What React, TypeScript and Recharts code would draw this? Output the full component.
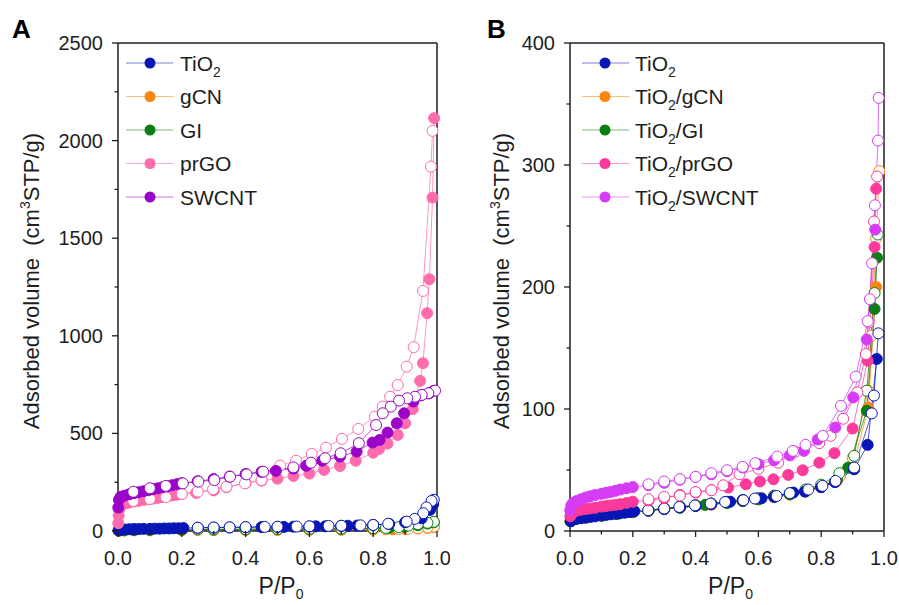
import { LineChart, Line, XAxis, YAxis, ReferenceLine, Legend, Label } from "recharts";

type Pt = [number, number];

// ---------- Panel A : bare materials (P/P0, cm3 STP/g) ----------
const tio2AAds: Pt[] = [
  [0.002, 4], [0.01, 7], [0.02, 8], [0.035, 9], [0.05, 10], [0.065, 10], [0.08, 11], [0.1, 11],
  [0.115, 12], [0.13, 12], [0.145, 13], [0.16, 13], [0.175, 14], [0.19, 14], [0.205, 15],
  [0.25, 16], [0.3, 17], [0.35, 18], [0.4, 19], [0.45, 20], [0.5, 21], [0.52, 21], [0.55, 22],
  [0.6, 23], [0.62, 24], [0.65, 24], [0.7, 26], [0.72, 27], [0.75, 28], [0.8, 31], [0.85, 36],
  [0.9, 45], [0.952, 65], [0.978, 108], [0.988, 138],
];
const tio2ADes: Pt[] = [
  [0.99, 160], [0.983, 154], [0.967, 121], [0.957, 91], [0.93, 62], [0.905, 48], [0.847, 37],
  [0.8, 31], [0.76, 29], [0.7, 27], [0.66, 26], [0.6, 24], [0.56, 23], [0.5, 22], [0.46, 21],
  [0.4, 20], [0.35, 19], [0.3, 18], [0.25, 17],
];
const gcnAAds: Pt[] = [
  [0.002, 1], [0.02, 2], [0.05, 3], [0.1, 3], [0.2, 4], [0.3, 5], [0.4, 5], [0.5, 6], [0.6, 6],
  [0.7, 7], [0.8, 8], [0.86, 9], [0.9, 11], [0.94, 13], [0.97, 16], [0.99, 20],
];
const gcnADes: Pt[] = [
  [0.99, 22], [0.97, 18], [0.94, 14], [0.91, 12], [0.88, 10], [0.84, 9], [0.8, 8], [0.7, 7],
  [0.6, 7], [0.5, 6], [0.4, 6], [0.3, 5], [0.25, 5],
];
const giAAds: Pt[] = [
  [0.002, 2], [0.02, 4], [0.05, 5], [0.1, 6], [0.2, 7], [0.3, 8], [0.4, 9], [0.5, 10], [0.6, 11],
  [0.7, 12], [0.8, 14], [0.85, 17], [0.9, 22], [0.94, 30], [0.97, 38], [0.99, 45],
];
const giADes: Pt[] = [
  [0.99, 47], [0.97, 42], [0.94, 35], [0.91, 27], [0.88, 20], [0.84, 16], [0.8, 14], [0.7, 12],
  [0.6, 11], [0.5, 10], [0.4, 9], [0.3, 8], [0.25, 8],
];
const prgoAAds: Pt[] = [
  [0.001, 40], [0.002, 80], [0.004, 110], [0.008, 128], [0.015, 137], [0.025, 142], [0.035, 146],
  [0.05, 151], [0.065, 155], [0.08, 159], [0.095, 163], [0.11, 166], [0.125, 170], [0.14, 174],
  [0.155, 178], [0.17, 182], [0.185, 186], [0.2, 190], [0.245, 195], [0.3, 208], [0.34, 224],
  [0.4, 245], [0.45, 258], [0.5, 268], [0.55, 282], [0.6, 294], [0.646, 313], [0.696, 333],
  [0.745, 360], [0.8, 401], [0.818, 420], [0.845, 448], [0.877, 492], [0.9, 552], [0.924, 624],
  [0.947, 769], [0.956, 860], [0.969, 1116], [0.976, 1290], [0.986, 1708], [0.991, 2115],
];
const prgoADes: Pt[] = [
  [0.986, 2050], [0.981, 1867], [0.956, 1230], [0.927, 942], [0.905, 842], [0.877, 748],
  [0.853, 688], [0.83, 637], [0.805, 586], [0.753, 523], [0.702, 472], [0.652, 427], [0.607, 395],
  [0.558, 360], [0.508, 335], [0.45, 261], [0.398, 244], [0.34, 227], [0.298, 214], [0.25, 202],
  [0.2, 190], [0.15, 173], [0.1, 164], [0.048, 154],
];
const swcntAAds: Pt[] = [
  [0.001, 120], [0.003, 160], [0.008, 175], [0.02, 181], [0.035, 188], [0.05, 194], [0.065, 199],
  [0.08, 204], [0.095, 209], [0.11, 214], [0.125, 219], [0.14, 224], [0.155, 229], [0.17, 235],
  [0.185, 240], [0.2, 245], [0.25, 255], [0.3, 266], [0.35, 279], [0.4, 292], [0.45, 303],
  [0.495, 308], [0.55, 320], [0.59, 334], [0.64, 360], [0.696, 381], [0.748, 407], [0.798, 453],
  [0.82, 466], [0.845, 504], [0.874, 552], [0.897, 603], [0.926, 663], [0.95, 695], [0.975, 705],
  [0.99, 718],
];
const swcntADes: Pt[] = [
  [0.994, 719], [0.973, 706], [0.952, 697], [0.931, 688], [0.907, 680], [0.881, 668], [0.855, 637],
  [0.83, 603], [0.809, 543], [0.755, 450], [0.698, 398], [0.649, 373], [0.605, 350], [0.55, 326],
  [0.455, 304], [0.403, 290], [0.351, 278], [0.302, 261], [0.252, 253], [0.203, 244], [0.15, 231],
  [0.1, 219], [0.048, 201],
];

// ---------- Panel B : TiO2 composites ----------
const tio2BAds: Pt[] = [
  [0.002, 8], [0.01, 9.5], [0.02, 10], [0.035, 10.5], [0.05, 11], [0.065, 11.5], [0.08, 12],
  [0.1, 12.8], [0.115, 13.2], [0.13, 13.7], [0.145, 14.2], [0.16, 14.6], [0.175, 15], [0.19, 15.6],
  [0.205, 16.2], [0.25, 17], [0.3, 18], [0.35, 19.5], [0.4, 20.5], [0.45, 22], [0.51, 24],
  [0.55, 25], [0.61, 26.8], [0.65, 28], [0.711, 31.5], [0.748, 32.3], [0.8, 36], [0.844, 40],
  [0.905, 50.6], [0.948, 70.6], [0.977, 141],
];
const tio2BDes: Pt[] = [
  [0.982, 162], [0.968, 111], [0.961, 96.4], [0.905, 52], [0.846, 41], [0.804, 37], [0.759, 34],
  [0.7, 31], [0.658, 28.7], [0.589, 26.6], [0.552, 25.2], [0.494, 23.8], [0.448, 22.5],
  [0.398, 21], [0.348, 19.7], [0.3, 18.4], [0.249, 17],
];
const gcnBAds: Pt[] = [
  [0.002, 8], [0.02, 10], [0.05, 11], [0.1, 12.5], [0.15, 14], [0.2, 15.5], [0.25, 16.5],
  [0.3, 18], [0.35, 19], [0.4, 20.5], [0.45, 21.5], [0.5, 23], [0.55, 24.5], [0.6, 26],
  [0.65, 28], [0.7, 30], [0.75, 32.5], [0.8, 36], [0.85, 41], [0.9, 52], [0.95, 101], [0.975, 200],
];
const gcnBDes: Pt[] = [
  [0.985, 295], [0.975, 240], [0.96, 160], [0.95, 115], [0.9, 60], [0.86, 45], [0.8, 37],
  [0.75, 33], [0.7, 30], [0.65, 28], [0.6, 26], [0.55, 25], [0.5, 23.5], [0.45, 22], [0.4, 21],
  [0.35, 19.5], [0.3, 18.5], [0.25, 17],
];
const giBAds: Pt[] = [
  [0.002, 8], [0.02, 10], [0.05, 11], [0.1, 12.5], [0.15, 14], [0.2, 15.5], [0.25, 16.5],
  [0.3, 18], [0.35, 19], [0.43, 21.4], [0.5, 23], [0.55, 24.5], [0.6, 26], [0.65, 28], [0.7, 30],
  [0.75, 32.5], [0.8, 36], [0.85, 42], [0.886, 52], [0.945, 98.5], [0.97, 182], [0.978, 224],
];
const giBDes: Pt[] = [
  [0.98, 243], [0.97, 195], [0.945, 115], [0.905, 61.6], [0.858, 47.4], [0.8, 38], [0.75, 34],
  [0.7, 31], [0.65, 29], [0.6, 27], [0.55, 25.5], [0.5, 24], [0.45, 22.5], [0.4, 21], [0.35, 20],
  [0.3, 18.5], [0.25, 17],
];
const prgoBAds: Pt[] = [
  [0.001, 12], [0.004, 14.5], [0.01, 15.5], [0.02, 16.5], [0.035, 17.5], [0.05, 18], [0.065, 18.5],
  [0.08, 19], [0.1, 20], [0.115, 20.5], [0.13, 21], [0.145, 21.5], [0.16, 22], [0.18, 23],
  [0.2, 24], [0.25, 25], [0.3, 27], [0.35, 29.5], [0.4, 31.5], [0.45, 33.5], [0.504, 35.6],
  [0.56, 38.3], [0.605, 40.6], [0.648, 42.4], [0.695, 46], [0.741, 49.8], [0.794, 56],
  [0.842, 63.8], [0.9, 84], [0.948, 139.6], [0.97, 232.7], [0.975, 280.5],
];
const prgoBDes: Pt[] = [
  [0.978, 290.6], [0.968, 253.7], [0.951, 171], [0.942, 145], [0.915, 113.6], [0.87, 92],
  [0.83, 78], [0.794, 72], [0.717, 65], [0.663, 56], [0.6, 51], [0.54, 46.5], [0.488, 37.5],
  [0.45, 33.4], [0.4, 32], [0.35, 29], [0.3, 28], [0.25, 26],
];
const swcntBAds: Pt[] = [
  [0.001, 17], [0.004, 21], [0.01, 23], [0.02, 24.5], [0.035, 26], [0.05, 27.5], [0.065, 28.5],
  [0.08, 29.5], [0.1, 30.5], [0.115, 31.3], [0.13, 32], [0.145, 33], [0.16, 34], [0.18, 35],
  [0.2, 36], [0.25, 37.5], [0.3, 39.5], [0.35, 42], [0.4, 44.4], [0.45, 46.5], [0.5, 49],
  [0.55, 52], [0.6, 54.8], [0.65, 58], [0.7, 62], [0.745, 65.7], [0.789, 75], [0.845, 84.9],
  [0.902, 109.5], [0.945, 157], [0.972, 247],
];
const swcntBDes: Pt[] = [
  [0.983, 355], [0.981, 320], [0.971, 267], [0.962, 219.5], [0.955, 190], [0.948, 172],
  [0.91, 126.5], [0.863, 102.6], [0.805, 78], [0.75, 70.6], [0.71, 65.7], [0.66, 61],
  [0.59, 55.6], [0.55, 52.6], [0.5, 49.8], [0.45, 47.4], [0.4, 44.4], [0.35, 42.5], [0.3, 40.6],
  [0.25, 38.3],
];

const namesA = ["TiO2", "gCN", "GI", "prGO", "SWCNT"];
const namesB = ["TiO2", "TiO2/gCN", "TiO2/GI", "TiO2/prGO", "TiO2/SWCNT"];
const colorsA = ["#0716b4", "#fb860f", "#0b7d12", "#ff6cae", "#9a05c8"];
const colorsB = ["#0716b4", "#fb860f", "#0b7d12", "#fb3a9c", "#d63cf6"];

const xTicks = [0, 0.1, 0.2, 0.3, 0.4, 0.5, 0.6, 0.7, 0.8, 0.9, 1.0];
const yTicksA = [0, 250, 500, 750, 1000, 1250, 1500, 1750, 2000, 2250, 2500];
const yTicksB = [0, 50, 100, 150, 200, 250, 300, 350, 400];

const FONT = "'Liberation Sans', Arial, Helvetica, sans-serif";
const INK = "#1e1e1e";
// gCN and GI go underneath TiO2, then the carbon ones on top
const drawOrder = [1, 2, 0, 3, 4];

type Series = { name: string; color: string; ads: Pt[]; des: Pt[] };

const seriesA: Series[] = namesA.map((name, i) => ({
  name,
  color: colorsA[i],
  ads: [tio2AAds, gcnAAds, giAAds, prgoAAds, swcntAAds][i],
  des: [tio2ADes, gcnADes, giADes, prgoADes, swcntADes][i],
}));
const seriesB: Series[] = namesB.map((name, i) => ({
  name,
  color: colorsB[i],
  ads: [tio2BAds, gcnBAds, giBAds, prgoBAds, swcntBAds][i],
  des: [tio2BDes, gcnBDes, giBDes, prgoBDes, swcntBDes][i],
}));

const rows = (pts: Pt[]) => pts.map(([p, v]) => ({ p, v }));

// "TiO2/xx" -> TiO with subscript 2
function Formula({ name }: { name: string }) {
  if (!name.startsWith("TiO2")) return <>{name}</>;
  const rest = name.slice(4);
  return (
    <>
      TiO<tspan fontSize={14} dy={6}>2</tspan>
      {rest && <tspan dy={-6}>{rest}</tspan>}
    </>
  );
}

function LegendBox({ items, lineX, dotX, textX }: { items: Series[]; lineX: number; dotX: number; textX: number }) {
  return (
    <svg width={260} height={175} style={{ overflow: "visible" }}>
      {items.map((s, i) => {
        const cy = 18 + i * 33.5;
        return (
          <g key={s.name}>
            <line x1={lineX} x2={lineX + 47} y1={cy} y2={cy} stroke={s.color} strokeOpacity={0.55} strokeWidth={1.2} />
            <circle cx={dotX} cy={cy} r={5.5} fill={s.color} />
            <text x={textX} y={cy + 7.5} fontSize={21} fontFamily={FONT} fill={INK}>
              <Formula name={s.name} />
            </text>
          </g>
        );
      })}
    </svg>
  );
}

const XTick = ({ x, y, payload }: any) => {
  const v = payload.value as number;
  const major = Math.round(v * 10) % 2 === 0;
  return (
    <g>
      <line x1={x} x2={x} y1={y} y2={y + (major ? 6 : 3.5)} stroke={INK} strokeWidth={1.3} />
      {major && (
        <text x={x} y={y + 34} textAnchor="middle" fontSize={20} fontFamily={FONT} fill={INK}>
          {v.toFixed(1)}
        </text>
      )}
    </g>
  );
};

const makeYTick = (step: number) => ({ x, y, payload }: any) => {
  const v = payload.value as number;
  const major = v % step === 0;
  return (
    <g>
      <line x1={x} x2={x - (major ? 6 : 3.5)} y1={y} y2={y} stroke={INK} strokeWidth={1.3} />
      {major && (
        <text x={x - 15} y={y + 7} textAnchor="end" fontSize={20} fontFamily={FONT} fill={INK}>
          {v}
        </text>
      )}
    </g>
  );
};

type PanelProps = {
  letter: string;
  left: number;
  width: number;
  yAxisWidth: number;
  rightMargin: number;
  yMax: number;
  yTicks: number[];
  yStep: number;
  series: Series[];
  legendLeft: number;
  legend: { lineX: number; dotX: number; textX: number };
  titleBaseX: number;
  letterX: number;
};

function Panel(p: PanelProps) {
  const plotLeft = p.yAxisWidth;
  const plotRight = p.width - p.rightMargin;
  const midX = (plotLeft + plotRight) / 2 + 3.5;
  const midY = 281;
  return (
    <div style={{ position: "absolute", left: p.left, top: 0 }}>
      <LineChart width={p.width} height={605} margin={{ top: 43, right: p.rightMargin, bottom: 0, left: 0 }}>
        <XAxis
          type="number"
          dataKey="p"
          domain={[0, 1]}
          ticks={xTicks}
          interval={0}
          height={74}
          tickSize={0}
          tickMargin={0}
          tickLine={false}
          tick={<XTick />}
          axisLine={{ stroke: INK, strokeWidth: 1.5 }}
        >
          <Label
            content={() => (
              <text x={midX} y={594} textAnchor="middle" fontSize={23} fontFamily={FONT} fill={INK}>
                P/P<tspan fontSize={14} dy={5}>0</tspan>
              </text>
            )}
          />
        </XAxis>
        <YAxis
          type="number"
          domain={[0, p.yMax]}
          ticks={p.yTicks}
          interval={0}
          width={p.yAxisWidth}
          tickSize={0}
          tickMargin={0}
          tickLine={false}
          tick={makeYTick(p.yStep)}
          axisLine={{ stroke: INK, strokeWidth: 1.5 }}
        >
          <Label
            content={() => (
              <g>
                <text x={p.letterX} y={38} fontSize={26} fontWeight="bold" fontFamily={FONT} fill="#000">
                  {p.letter}
                </text>
                <text
                  x={p.titleBaseX}
                  y={midY}
                  transform={`rotate(-90 ${p.titleBaseX} ${midY})`}
                  textAnchor="middle"
                  fontSize={22}
                  fontFamily={FONT}
                  fill={INK}
                  style={{ whiteSpace: "pre" }}
                >
                  {"Adsorbed volume  (cm"}
                  <tspan fontSize={14} dy={-9}>3</tspan>
                  <tspan dy={9}>STP/g)</tspan>
                </text>
              </g>
            )}
          />
        </YAxis>
        <ReferenceLine y={p.yMax} stroke={INK} strokeWidth={1.5} />
        <ReferenceLine x={1} stroke={INK} strokeWidth={1.5} />
        {drawOrder.flatMap((i) => {
          const s = p.series[i];
          return [
            <Line
              key={s.name + "-ads"}
              data={rows(s.ads)}
              dataKey="v"
              type="linear"
              stroke={s.color}
              strokeOpacity={0.8}
              strokeWidth={0.9}
              dot={{ r: 5.5, fill: s.color, stroke: s.color, strokeWidth: 1, fillOpacity: 1, strokeOpacity: 1 }}
              activeDot={false}
              legendType="none"
              isAnimationActive={false}
            />,
            <Line
              key={s.name + "-des"}
              data={rows(s.des)}
              dataKey="v"
              type="linear"
              stroke={s.color}
              strokeOpacity={0.8}
              strokeWidth={0.9}
              dot={{ r: 5.5, fill: "#fff", stroke: s.color, strokeWidth: 1, fillOpacity: 1, strokeOpacity: 1 }}
              activeDot={false}
              legendType="none"
              isAnimationActive={false}
            />,
          ];
        })}
        <Legend
          layout="vertical"
          align="center"
          verticalAlign="middle"
          wrapperStyle={{ left: p.legendLeft, top: 45, width: 260, height: 175 }}
          content={() => <LegendBox items={p.series} {...p.legend} />}
        />
      </LineChart>
    </div>
  );
}

export default function App() {
  return (
    <div style={{ position: "absolute", left: 0, top: 0, width: 899, height: 605, background: "#fff", fontFamily: FONT }}>
      <Panel
        letter="A"
        left={0}
        width={450}
        yAxisWidth={118}
        rightMargin={13}
        yMax={2500}
        yTicks={yTicksA}
        yStep={500}
        series={seriesA}
        legendLeft={120}
        legend={{ lineX: 6, dotX: 30, textX: 60 }}
        titleBaseX={39}
        letterX={12}
      />
      <Panel
        letter="B"
        left={450}
        width={449}
        yAxisWidth={120}
        rightMargin={15}
        yMax={400}
        yTicks={yTicksB}
        yStep={100}
        series={seriesB}
        legendLeft={127}
        legend={{ lineX: 5, dotX: 28, textX: 58 }}
        titleBaseX={59}
        letterX={37}
      />
    </div>
  );
}
